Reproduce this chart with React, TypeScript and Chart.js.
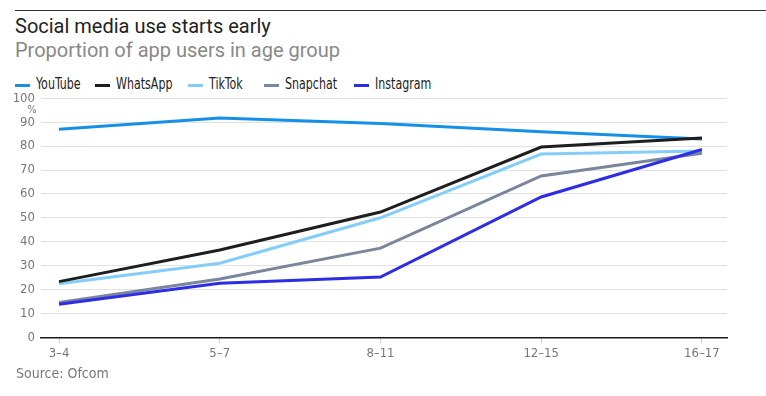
import React, { useEffect, useRef } from "react";
import { Chart, registerables } from "chart.js";

Chart.register(...registerables);

const categories = ["3–4", "5–7", "8–11", "12–15", "16–17"];
const youtube = [87, 91.8, 89.5, 86, 83];
const whatsapp = [23.3, 36.5, 52.4, 79.6, 83.4];
const tiktok = [22.4, 31, 50, 76.7, 78];
const snapchat = [14.6, 24.4, 37.3, 67.5, 77];
const instagram = [13.8, 22.6, 25.2, 58.7, 78.6];
const yTicks = [0, 10, 20, 30, 40, 50, 60, 70, 80, 90, 100];

const series = [
  { label: "YouTube", data: youtube, color: "#1590e6", order: 4 },
  { label: "WhatsApp", data: whatsapp, color: "#1e1e1e", order: 1 },
  { label: "TikTok", data: tiktok, color: "#84cdf7", order: 3 },
  { label: "Snapchat", data: snapchat, color: "#7a869b", order: 2 },
  { label: "Instagram", data: instagram, color: "#2d2ee3", order: 0 },
];
const legendX = [15, 95, 188, 264, 354];

const NARROW = "'DejaVu Sans Condensed', 'Liberation Sans Narrow', sans-serif";
const SANS = "Roboto, Inter, sans-serif";

export default function App() {
  const ref = useRef<HTMLCanvasElement>(null);
  useEffect(() => {
    if (!ref.current) return;
    const pctPlugin = {
      id: "pct",
      afterDraw(chart: any) {
        const y = chart.scales.y;
        const ctx = chart.ctx;
        ctx.save();
        ctx.font = `11px ${NARROW}`;
        ctx.fillStyle = "#777";
        ctx.textAlign = "center";
        ctx.textBaseline = "middle";
        ctx.fillText("%", 32, y.getPixelForValue(100) + 12);
        ctx.restore();
      },
    };
    const chart = new Chart(ref.current, {
      type: "line",
      data: {
        datasets: series.map((s) => ({
          label: s.label,
          data: s.data.map((v, i) => ({ x: i, y: v })),
          borderColor: s.color,
          backgroundColor: s.color,
          borderWidth: 3,
          pointRadius: 0,
          tension: 0,
          order: s.order,
        })),
      },
      plugins: [pctPlugin],
      options: {
        animation: false,
        responsive: false,
        devicePixelRatio: 1,
        layout: { padding: { top: 8.3, right: 39, left: 0, bottom: 0 } },
        plugins: { legend: { display: false }, tooltip: { enabled: false } },
        scales: {
          x: {
            type: "linear",
            min: -0.112,
            max: 4.156,
            afterBuildTicks: (s: any) => {
              s.ticks = categories.map((_, i) => ({ value: i }));
            },
            afterFit: (s: any) => {
              s.height = 27.7;
              s.paddingLeft = 0;
              s.paddingRight = 0;
            },
            ticks: {
              callback: (v: any) => categories[v as number] ?? "",
              font: { family: NARROW, size: 13 },
              color: "#777",
              padding: 3,
              maxRotation: 0,
              autoSkip: false,
            },
            grid: {
              drawOnChartArea: false,
              drawTicks: true,
              tickLength: 6,
              color: "#cfcfcf",
            },
            border: { display: true, color: "#1a1a1a", width: 1.5 },
          },
          y: {
            min: 0,
            max: 100,
            afterBuildTicks: (s: any) => {
              s.ticks = yTicks.map((v) => ({ value: v }));
            },
            afterFit: (s: any) => {
              s.width = 41;
              s.paddingTop = 0;
              s.paddingBottom = 0;
            },
            ticks: {
              font: { family: NARROW, size: 13 },
              color: "#777",
              padding: 6,
            },
            grid: { drawTicks: false, color: "#e2e2e2", lineWidth: 1 },
            border: { display: false },
          },
        },
      },
    });
    return () => chart.destroy();
  }, []);

  return (
    <div style={{ position: "absolute", left: 0, top: 0, width: 766, height: 396, background: "#fff", overflow: "hidden" }}>
      <div style={{ position: "absolute", left: 15, top: 10, width: 751, height: 1, background: "#333" }} />
      <div style={{ position: "absolute", left: 15, top: 13, fontFamily: SANS, fontSize: 20, color: "#222", lineHeight: "26px", whiteSpace: "nowrap" }}>
        Social media use starts early
      </div>
      <div style={{ position: "absolute", left: 15, top: 37, fontFamily: SANS, fontSize: 20, color: "#888", lineHeight: "26px", whiteSpace: "nowrap" }}>
        Proportion of app users in age group
      </div>
      {series.map((s, i) => (
        <div key={s.label} style={{ position: "absolute", left: legendX[i], top: 74, height: 20, whiteSpace: "nowrap" }}>
          <span style={{ position: "absolute", left: 0, top: 10, width: 15, height: 3, background: s.color }} />
          <span
            style={{
              position: "absolute",
              left: 21,
              top: 0,
              fontFamily: NARROW,
              fontSize: 15,
              lineHeight: "20px",
              color: "#222",
              transform: "scaleX(0.82)",
              transformOrigin: "left center",
            }}
          >
            {s.label}
          </span>
        </div>
      ))}
      <canvas ref={ref} width={766} height={275} style={{ position: "absolute", left: 0, top: 90, width: 766, height: 275 }} />
      <div style={{ position: "absolute", left: 16, top: 364, fontFamily: NARROW, fontSize: 14, color: "#777", lineHeight: "18px", whiteSpace: "nowrap" }}>
        Source: Ofcom
      </div>
    </div>
  );
}
